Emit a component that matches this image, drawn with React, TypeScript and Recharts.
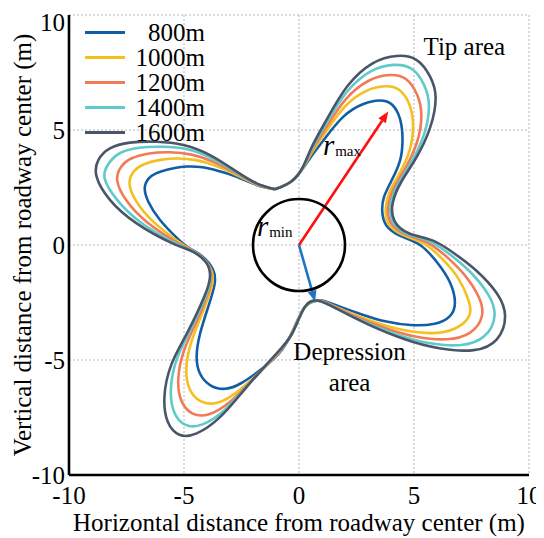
import React from 'react';
import {
  LineChart,
  Line,
  XAxis,
  YAxis,
  CartesianGrid,
  ReferenceDot,
  ReferenceLine,
  Legend,
  Label,
} from 'recharts';

// ---------- data ----------
const SERIES_NAMES = ['800m', '1000m', '1200m', '1400m', '1600m'];
const SERIES_COLORS = ['#125ea6', '#f4c020', '#f27a56', '#5fcacb', '#4b5569'];

const AXIS_DOMAIN: [number, number] = [-10, 10];
const AXIS_TICKS = [-10, -5, 0, 5, 10];

// closed contours (x, y) in metres, traced clockwise from the upper depression
const curve800: [number, number][] = [
  [-1.05, 2.42], [-0.35, 2.75], [0.15, 3.3], [0.6, 3.95], [1.1, 4.6], [1.93, 5.58], [2.8, 6.13], [3.5, 6.28],
  [4.05, 6.1], [4.4, 5.45], [4.5, 4.6], [4.4, 3.7], [4.05, 2.85], [3.7, 2.1], [3.62, 1.45], [3.8, 0.85],
  [4.4, 0.4], [5.26, 0.0], [6.0, -0.75], [6.55, -1.6], [6.78, -2.5], [6.55, -3.1], [5.9, -3.42], [4.85, -3.48],
  [3.8, -3.33], [2.8, -3.04], [1.78, -2.68], [1.1, -2.43], [0.8, -2.42], [0.25, -2.7], [-0.3, -3.8], [-0.9, -4.75],
  [-1.7, -5.45], [-2.5, -6.0], [-3.2, -6.25], [-3.85, -6.1], [-4.3, -5.6], [-4.45, -4.85], [-4.3, -3.85], [-3.95, -2.7],
  [-3.67, -1.7], [-3.75, -1.05], [-4.2, -0.5], [-4.75, -0.15], [-5.3, 0.3], [-6.05, 1.1], [-6.55, 1.88], [-6.7, 2.55],
  [-6.42, 3.0], [-6.0, 3.2], [-5.4, 3.35], [-4.88, 3.41], [-4.2, 3.38], [-3.5, 3.22], [-2.71, 2.97], [-1.84, 2.61],
  [-1.05, 2.42],
];

const curve1000: [number, number][] = [
  [-1.05, 2.42], [-0.35, 2.75], [0.15, 3.32], [0.58, 4.05], [1.13, 4.87], [1.98, 6.0], [2.93, 6.7], [3.74, 6.9],
  [4.39, 6.72], [4.82, 6.05], [4.96, 5.18], [4.82, 4.15], [4.39, 3.15], [3.94, 2.31], [3.77, 1.58], [3.91, 0.91],
  [4.53, 0.43], [5.43, 0.06], [6.26, -0.64], [6.93, -1.46], [7.36, -2.37], [7.4, -3.08], [6.76, -3.64], [5.73, -3.83],
  [4.54, -3.7], [3.38, -3.38], [2.17, -2.93], [1.29, -2.55], [0.82, -2.42], [0.25, -2.7], [-0.3, -3.81], [-0.96, -4.78],
  [-1.89, -5.69], [-2.79, -6.46], [-3.6, -6.87], [-4.28, -6.79], [-4.75, -6.27], [-4.9, -5.41], [-4.7, -4.28], [-4.24, -3.05],
  [-3.81, -1.86], [-3.79, -1.16], [-4.14, -0.6], [-4.7, -0.2], [-5.36, 0.23], [-6.37, 1.05], [-7.08, 1.91], [-7.37, 2.68],
  [-7.16, 3.22], [-6.71, 3.52], [-6.02, 3.7], [-5.3, 3.76], [-4.47, 3.69], [-3.62, 3.44], [-2.71, 3.04], [-1.84, 2.63],
  [-1.05, 2.42],
];

const curve1200: [number, number][] = [
  [-1.05, 2.42], [-0.35, 2.75], [0.15, 3.33], [0.57, 4.12], [1.16, 5.08], [2.03, 6.33], [3.03, 7.14], [3.93, 7.39],
  [4.66, 7.21], [5.14, 6.52], [5.32, 5.63], [5.14, 4.5], [4.65, 3.39], [4.13, 2.47], [3.88, 1.68], [4.0, 0.96],
  [4.63, 0.46], [5.57, 0.11], [6.46, -0.55], [7.23, -1.34], [7.82, -2.27], [7.95, -3.1], [7.44, -3.81], [6.42, -4.1],
  [5.11, -3.99], [3.83, -3.64], [2.48, -3.12], [1.44, -2.64], [0.83, -2.42], [0.25, -2.7], [-0.3, -3.83], [-1.01, -4.81],
  [-2.04, -5.88], [-3.01, -6.83], [-3.91, -7.36], [-4.62, -7.33], [-5.1, -6.8], [-5.25, -5.85], [-5.01, -4.62], [-4.46, -3.33],
  [-3.92, -1.99], [-3.82, -1.24], [-4.09, -0.67], [-4.66, -0.24], [-5.41, 0.17], [-6.63, 1.01], [-7.5, 1.93], [-7.9, 2.79],
  [-7.73, 3.4], [-7.27, 3.77], [-6.51, 3.98], [-5.63, 4.03], [-4.67, 3.93], [-3.71, 3.61], [-2.71, 3.1], [-1.84, 2.65],
  [-1.05, 2.42],
];

const curve1400: [number, number][] = [
  [-1.05, 2.42], [-0.35, 2.75], [0.15, 3.34], [0.56, 4.19], [1.18, 5.28], [2.07, 6.64], [3.12, 7.55], [4.1, 7.83],
  [4.91, 7.65], [5.44, 6.95], [5.65, 6.04], [5.44, 4.82], [4.89, 3.61], [4.3, 2.62], [3.99, 1.77], [4.08, 1.01],
  [4.72, 0.48], [5.69, 0.16], [6.64, -0.47], [7.51, -1.24], [8.24, -2.18], [8.5, -3.1], [8.06, -3.96], [7.05, -4.35],
  [5.64, -4.26], [4.24, -3.89], [2.76, -3.3], [1.58, -2.73], [0.84, -2.42], [0.25, -2.7], [-0.3, -3.84], [-1.06, -4.83],
  [-2.18, -6.05], [-3.22, -7.16], [-4.2, -7.8], [-4.93, -7.82], [-5.42, -7.28], [-5.57, -6.25], [-5.3, -4.93], [-4.67, -3.58],
  [-4.01, -2.1], [-3.85, -1.31], [-4.05, -0.74], [-4.63, -0.27], [-5.46, 0.12], [-6.86, 0.97], [-7.89, 1.94], [-8.45, 2.9],
  [-8.26, 3.56], [-7.78, 4.0], [-6.96, 4.23], [-5.93, 4.27], [-4.86, 4.16], [-3.8, 3.77], [-2.71, 3.15], [-1.84, 2.67],
  [-1.05, 2.42],
];

const curve1600: [number, number][] = [
  [-1.05, 2.42], [-0.35, 2.75], [0.15, 3.35], [0.55, 4.25], [1.2, 5.45], [2.1, 6.9], [3.2, 7.9], [4.25, 8.22],
  [5.12, 8.04], [5.7, 7.32], [5.94, 6.4], [5.7, 5.1], [5.1, 3.8], [4.45, 2.75], [4.08, 1.85], [4.15, 1.05],
  [4.8, 0.5], [5.8, 0.2], [6.8, -0.4], [7.75, -1.15], [8.6, -2.1], [8.96, -3.1], [8.6, -4.1], [7.6, -4.57],
  [6.1, -4.49], [4.6, -4.1], [3.0, -3.45], [1.7, -2.8], [0.85, -2.42], [0.25, -2.7], [-0.3, -3.85], [-1.1, -4.85],
  [-2.3, -6.2], [-3.4, -7.45], [-4.45, -8.19], [-5.2, -8.25], [-5.7, -7.7], [-5.85, -6.6], [-5.55, -5.2], [-4.85, -3.8],
  [-4.1, -2.2], [-3.87, -1.38], [-4.01, -0.8], [-4.6, -0.3], [-5.5, 0.07], [-7.06, 0.94], [-8.22, 1.96], [-8.8, 2.97],
  [-8.72, 3.7], [-8.22, 4.2], [-7.35, 4.45], [-6.19, 4.49], [-5.03, 4.35], [-3.87, 3.91], [-2.71, 3.19], [-1.84, 2.68],
  [-1.05, 2.42],
];

const CURVES = [curve800, curve1000, curve1200, curve1400, curve1600];

// annotations (data coordinates, metres)
const R_MIN = 2;
const ORIGIN = { x: 0, y: 0 };
const R_MAX_TIP = { x: 3.88, y: 5.8 };
const R_MIN_TIP = { x: 0.7, y: -2.46 };
const TIP_LABEL = { x: 7.19, y: 8.26, text: 'Tip area' };
const DEP_LABEL_1 = { x: 2.2, y: -5.0, text: 'Depression' };
const DEP_LABEL_2 = { x: 2.2, y: -6.33, text: 'area' };
const RMAX_LABEL = { x: 1.04, y: 3.9, sub: 'max' };
const RMIN_LABEL = { x: -1.83, y: 0.39, sub: 'min' };

const X_TITLE = 'Horizontal distance from roadway center (m)';
const Y_TITLE = 'Vertical distance from roadway center (m)';

// ---------- layout ----------
const FONT = "'Liberation Serif', 'Times New Roman', Times, serif";
const CHART_W = 536;
const CHART_H = 530;
const MARGIN = { top: 7, right: 15, bottom: 0, left: 0 };
const Y_AXIS_W = 61;
const X_AXIS_H = 63;
const PLOT_W = CHART_W - MARGIN.left - MARGIN.right - Y_AXIS_W;
const PX_PER_UNIT = PLOT_W / (AXIS_DOMAIN[1] - AXIS_DOMAIN[0]);

const toPoints = (pairs: [number, number][]) => pairs.map(([x, y]) => ({ x, y }));

const makeArrow = (color: string) => (props: any) => {
  const { x1, y1, x2, y2 } = props;
  const dx = x2 - x1;
  const dy = y2 - y1;
  const len = Math.sqrt(dx * dx + dy * dy) || 1;
  const ux = dx / len;
  const uy = dy / len;
  const headL = 11;
  const headW = 4.5;
  const bx = x2 - ux * headL;
  const by = y2 - uy * headL;
  const pts = `${x2},${y2} ${bx - uy * headW},${by + ux * headW} ${bx + uy * headW},${by - ux * headW}`;
  return (
    <g>
      <line x1={x1} y1={y1} x2={bx} y2={by} stroke={color} strokeWidth={2.6} />
      <polygon points={pts} fill={color} />
    </g>
  );
};

const makeText = (text: string, anchor: 'start' | 'middle' | 'end' = 'middle') => (p: any) => (
  <text x={p.cx} y={p.cy} textAnchor={anchor} style={{ fontFamily: FONT }} fontSize={25} fill="#000">
    {text}
  </text>
);

const makeRLabel = (sub: string) => (p: any) => (
  <text x={p.cx} y={p.cy} style={{ fontFamily: FONT }} fill="#000">
    <tspan fontStyle="italic" fontSize={29}>r</tspan>
    <tspan fontSize={15} dx={1} dy={1}>{sub}</tspan>
  </text>
);

const circleShape = (p: any) => (
  <circle cx={p.cx} cy={p.cy} r={R_MIN * PX_PER_UNIT} fill="none" stroke="#000" strokeWidth={2.6} />
);

const LegendBox = () => (
  <div style={{ fontFamily: FONT, fontSize: 25, color: '#000' }}>
    {SERIES_NAMES.map((name, i) => (
      <div key={name} style={{ display: 'flex', alignItems: 'center', height: 25 }}>
        <div style={{ width: 40, height: 3, background: SERIES_COLORS[i] }} />
        <div style={{ width: 80, textAlign: 'right', lineHeight: '25px' }}>{name}</div>
      </div>
    ))}
  </div>
);

const tickStyle = { fontSize: 25, fill: '#000', fontFamily: FONT, style: { fontFamily: FONT } };
const frame = { stroke: '#000', strokeWidth: 2.6 };
const inTick = { stroke: '#000', strokeWidth: 1.6 };

export default function App() {
  return (
    <LineChart width={CHART_W} height={CHART_H} margin={MARGIN} style={{ fontFamily: FONT }}>
      <CartesianGrid stroke="#b5b5b5" strokeDasharray="2 2" strokeWidth={1} />
      <XAxis
        type="number"
        dataKey="x"
        domain={AXIS_DOMAIN}
        ticks={AXIS_TICKS}
        allowDataOverflow
        height={X_AXIS_H}
        tickSize={0}
        tickMargin={11}
        tickLine={false}
        axisLine={frame}
        tick={tickStyle}
      >
        <Label
          content={(props: any) => {
            const vb = props.viewBox || {};
            return (
              <text x={vb.x + vb.width / 2} y={vb.y + 56} textAnchor="middle" style={{ fontFamily: FONT }} fontSize={25} fill="#000">
                {X_TITLE}
              </text>
            );
          }}
        />
      </XAxis>
      <YAxis
        type="number"
        dataKey="y"
        domain={AXIS_DOMAIN}
        ticks={AXIS_TICKS}
        allowDataOverflow
        width={Y_AXIS_W}
        tickSize={0}
        tickMargin={4}
        tickLine={false}
        axisLine={frame}
        tick={tickStyle}
      >
        <Label
          content={(props: any) => {
            const vb = props.viewBox || {};
            const cx = vb.x + 23;
            const cy = vb.y + vb.height / 2;
            return (
              <text x={cx} y={cy} transform={`rotate(-90, ${cx}, ${cy})`} textAnchor="middle" style={{ fontFamily: FONT }} fontSize={25} fill="#000">
                {Y_TITLE}
              </text>
            );
          }}
        />
      </YAxis>
      <XAxis xAxisId="top" orientation="top" mirror type="number" domain={AXIS_DOMAIN} ticks={AXIS_TICKS} allowDataOverflow height={0} tick={false} tickSize={5} tickLine={inTick} axisLine={frame} />
      <XAxis xAxisId="bm" orientation="bottom" mirror type="number" domain={AXIS_DOMAIN} ticks={AXIS_TICKS} allowDataOverflow height={0} tick={false} tickSize={5} tickLine={inTick} axisLine={false} />
      <YAxis yAxisId="right" orientation="right" mirror type="number" domain={AXIS_DOMAIN} ticks={AXIS_TICKS} allowDataOverflow width={0} tick={false} tickSize={5} tickLine={inTick} axisLine={frame} />
      <YAxis yAxisId="lm" orientation="left" mirror type="number" domain={AXIS_DOMAIN} ticks={AXIS_TICKS} allowDataOverflow width={0} tick={false} tickSize={5} tickLine={inTick} axisLine={false} />

      {CURVES.map((c, i) => (
        <Line
          key={SERIES_NAMES[i]}
          name={SERIES_NAMES[i]}
          data={toPoints(c)}
          dataKey="y"
          type="natural"
          stroke={SERIES_COLORS[i]}
          strokeWidth={2.6}
          dot={false}
          activeDot={false}
          isAnimationActive={false}
        />
      ))}

      <ReferenceDot x={ORIGIN.x} y={ORIGIN.y} r={R_MIN * PX_PER_UNIT} shape={circleShape} />
      <ReferenceLine segment={[ORIGIN, R_MAX_TIP]} shape={makeArrow('#ff1010')} />
      <ReferenceLine segment={[ORIGIN, R_MIN_TIP]} shape={makeArrow('#1b74c6')} />

      <ReferenceDot x={TIP_LABEL.x} y={TIP_LABEL.y} r={1} shape={makeText(TIP_LABEL.text)} />
      <ReferenceDot x={DEP_LABEL_1.x} y={DEP_LABEL_1.y} r={1} shape={makeText(DEP_LABEL_1.text)} />
      <ReferenceDot x={DEP_LABEL_2.x} y={DEP_LABEL_2.y} r={1} shape={makeText(DEP_LABEL_2.text)} />
      <ReferenceDot x={RMAX_LABEL.x} y={RMAX_LABEL.y} r={1} shape={makeRLabel(RMAX_LABEL.sub)} />
      <ReferenceDot x={RMIN_LABEL.x} y={RMIN_LABEL.y} r={1} shape={makeRLabel(RMIN_LABEL.sub)} />

      <Legend
        layout="vertical"
        align="center"
        verticalAlign="middle"
        wrapperStyle={{ left: 77, top: 12, width: 'auto', height: 'auto' }}
        content={() => <LegendBox />}
      />
    </LineChart>
  );
}
